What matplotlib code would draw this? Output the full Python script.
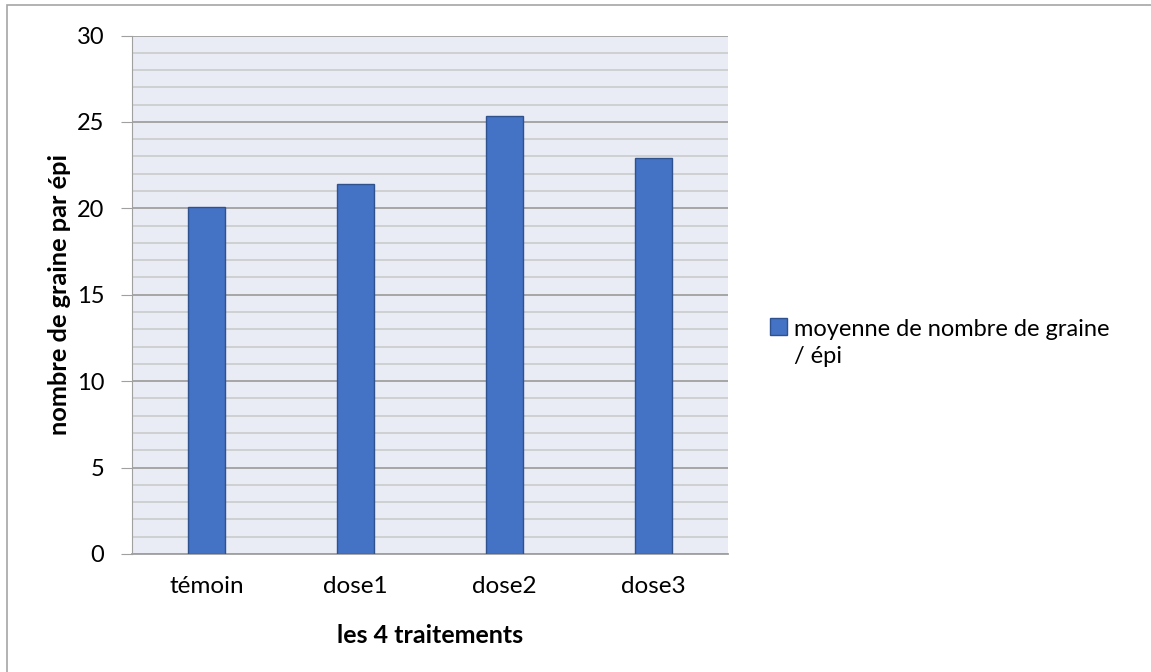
import matplotlib.pyplot as plt
from matplotlib.patches import Rectangle
from matplotlib.ticker import MultipleLocator

traitements = ['témoin', 'dose1', 'dose2', 'dose3']
moyennes = [20.06, 21.41, 25.35, 22.92]
nom_serie = 'moyenne de nombre de graine\n/ épi'

plt.rcParams['font.family'] = ['Lato', 'DejaVu Sans']

W, H = 1151, 672
fig = plt.figure(figsize=(W / 100, H / 100), dpi=100)
ax = fig.add_axes([132 / W, 1 - 554 / H, 596 / W, (554 - 35.5) / H])

# cadre du graphique
fig.patches.append(Rectangle((7 / W, -0.1), 1.2, 1 - 5 / H + 0.1, transform=fig.transFigure,
                             fill=False, edgecolor='#A6A6A6', linewidth=1.2))

ax.set_facecolor('#E9EBF5')
x = range(len(traitements))
ax.bar(x, moyennes, width=0.253, color='#4472C4', edgecolor='#2F528F', linewidth=1, zorder=3)

ax.set_xlim(-0.5, len(traitements) - 0.5)
ax.set_ylim(0, 30)
ax.yaxis.set_major_locator(MultipleLocator(5))
ax.yaxis.set_minor_locator(MultipleLocator(1))
ax.grid(which='major', axis='y', color='#A0A0A0', linewidth=1.3, zorder=1)
ax.grid(which='minor', axis='y', color='#C8C8C8', linewidth=1.1, zorder=1)

ax.set_xticks(list(x))
ax.set_xticklabels(traitements, fontsize=17.5)
ax.tick_params(axis='x', length=0, pad=16)
ax.tick_params(axis='y', which='major', length=8, color='#A0A0A0', labelsize=17, pad=12)
ax.tick_params(axis='y', which='minor', length=0)

for s in ['top', 'right']:
    ax.spines[s].set_visible(False)
ax.spines['left'].set_color('#A0A0A0')
ax.spines['bottom'].set_color('#A0A0A0')
ax.spines['bottom'].set_linewidth(1.3)

ax.set_xlabel('les 4 traitements', fontsize=18, fontweight='bold', labelpad=19)
ax.set_ylabel('nombre de graine par épi', fontsize=18.3, fontweight='bold', labelpad=4)

# légende
fig.patches.append(Rectangle((770 / W, 1 - 335 / H), 17 / W, 17 / H, transform=fig.transFigure,
                             facecolor='#4472C4', edgecolor='#2F528F', linewidth=1))
fig.text(794 / W, 1 - 343 / H, nom_serie, fontsize=17, va='center', ha='left', linespacing=1.4)

fig.savefig('out.png', dpi=100)
